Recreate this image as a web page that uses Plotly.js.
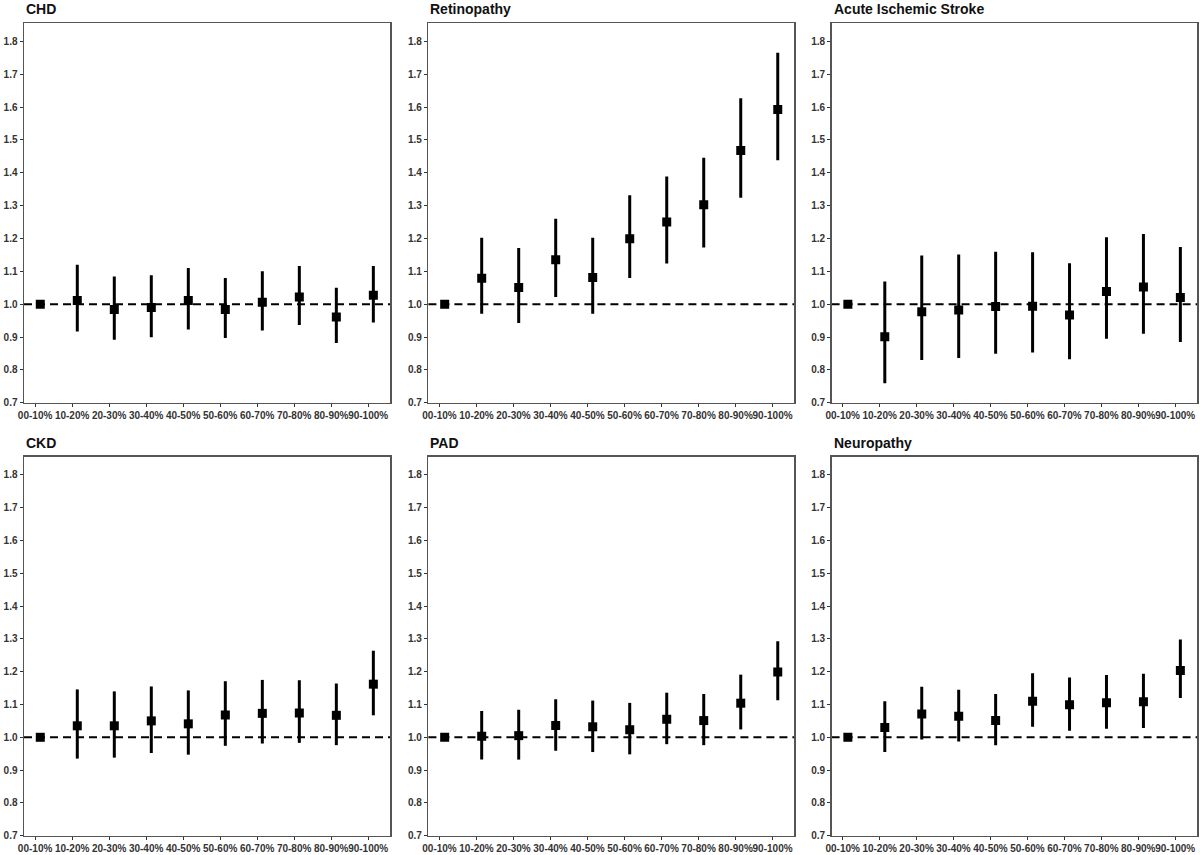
<!DOCTYPE html>
<html>
<head>
<meta charset="utf-8">
<script src="https://cdn.plot.ly/plotly-3.0.1.min.js"></script>
<style>
  html, body { margin: 0; padding: 0; background: #fff; }
  #chart { width: 1200px; height: 855px; }
</style>
</head>
<body>
<div id="chart"></div>
<script>
// deciles of the score, shared by every panel
const deciles = ['00-10%', '10-20%', '20-30%', '30-40%', '40-50%',
                 '50-60%', '60-70%', '70-80%', '80-90%', '90-100%'];

const refValue = 1.0;

// CHD
const chdEst = [1.0, 1.011, 0.984, 0.990, 1.011, 0.984, 1.006, 1.022, 0.961, 1.027];
const chdLo  = [1.0, 0.917, 0.892, 0.899, 0.923, 0.897, 0.920, 0.937, 0.882, 0.944];
const chdHi  = [1.0, 1.120, 1.084, 1.088, 1.110, 1.080, 1.100, 1.116, 1.050, 1.116];

// Retinopathy
const retEst = [1.0, 1.079, 1.051, 1.135, 1.081, 1.199, 1.250, 1.303, 1.468, 1.593];
const retLo  = [1.0, 0.971, 0.943, 1.022, 0.971, 1.080, 1.124, 1.173, 1.324, 1.438];
const retHi  = [1.0, 1.202, 1.171, 1.260, 1.202, 1.332, 1.389, 1.446, 1.627, 1.766];

// Acute Ischemic Stroke
const aisEst = [1.0, 0.901, 0.977, 0.982, 0.993, 0.994, 0.967, 1.039, 1.052, 1.020];
const aisLo  = [1.0, 0.759, 0.830, 0.836, 0.849, 0.853, 0.832, 0.895, 0.910, 0.885];
const aisHi  = [1.0, 1.069, 1.148, 1.151, 1.160, 1.158, 1.125, 1.204, 1.214, 1.174];

// CKD
const ckdEst = [1.0, 1.035, 1.035, 1.050, 1.041, 1.068, 1.073, 1.074, 1.067, 1.162];
const ckdLo  = [1.0, 0.935, 0.938, 0.952, 0.947, 0.974, 0.981, 0.983, 0.976, 1.067];
const ckdHi  = [1.0, 1.146, 1.140, 1.155, 1.143, 1.171, 1.175, 1.174, 1.164, 1.264];

// PAD
const padEst = [1.0, 1.003, 1.005, 1.036, 1.032, 1.023, 1.055, 1.051, 1.104, 1.199];
const padLo  = [1.0, 0.932, 0.932, 0.959, 0.955, 0.948, 0.979, 0.976, 1.024, 1.113];
const padHi  = [1.0, 1.080, 1.084, 1.116, 1.112, 1.105, 1.136, 1.132, 1.191, 1.293];

// Neuropathy
const neuEst = [1.0, 1.030, 1.071, 1.064, 1.051, 1.110, 1.099, 1.105, 1.108, 1.204];
const neuLo  = [1.0, 0.955, 0.993, 0.987, 0.976, 1.032, 1.020, 1.026, 1.028, 1.120];
const neuHi  = [1.0, 1.110, 1.154, 1.145, 1.132, 1.195, 1.182, 1.190, 1.194, 1.298];

const panels = [
  {name: 'CHD', est: chdEst, lo: chdLo, hi: chdHi},
  {name: 'Retinopathy', est: retEst, lo: retLo, hi: retHi},
  {name: 'Acute Ischemic Stroke', est: aisEst, lo: aisLo, hi: aisHi},
  {name: 'CKD', est: ckdEst, lo: ckdLo, hi: ckdHi},
  {name: 'PAD', est: padEst, lo: padLo, hi: padHi},
  {name: 'Neuropathy', est: neuEst, lo: neuLo, hi: neuHi}
];

// layout of the 2x3 grid, in paper fractions
const colDomains = [[0.020, 0.325], [0.357, 0.662], [0.693, 0.9975]];
const rowDomains = [[0.529, 0.973], [0.0226, 0.466]];
const pointShift = 0.14;   // markers sit a little right of the tick, as in the original

const tickFont = {family: 'Liberation Sans, Arial, sans-serif', size: 10, color: '#333', weight: 'bold'};

let traces = [];
let layout = {
  width: 1200, height: 855,
  margin: {l: 0, r: 0, t: 0, b: 0},
  paper_bgcolor: '#fff',
  plot_bgcolor: '#fff',
  showlegend: false,
  font: {family: 'Liberation Sans, Arial, sans-serif', color: '#000'},
  shapes: [],
  annotations: []
};

panels.forEach(function (p, k) {
  let n = k + 1;
  let xa = n === 1 ? 'x' : 'x' + n;
  let ya = n === 1 ? 'y' : 'y' + n;
  let xs = deciles.map(function (d, i) { return i + pointShift; });

  traces.push({
    type: 'scatter', mode: 'markers',
    x: xs, y: p.est,
    xaxis: xa, yaxis: ya,
    marker: {symbol: 'square', size: 9, color: '#000'},
    error_y: {
      type: 'data', symmetric: false,
      array: p.hi.map(function (h, i) { return h - p.est[i]; }),
      arrayminus: p.lo.map(function (l, i) { return p.est[i] - l; }),
      color: '#000', thickness: 3, width: 0
    },
    hoverinfo: 'x+y'
  });

  let col = k % 3, row = Math.floor(k / 3);
  layout['xaxis' + (n === 1 ? '' : n)] = {
    domain: colDomains[col], anchor: ya,
    range: [-0.3, 9.59],
    tickmode: 'array',
    tickvals: deciles.map(function (d, i) { return i; }),
    ticktext: deciles,
    tickangle: 0,
    ticks: 'outside', ticklen: 3, tickwidth: 1, tickcolor: '#333',
    tickfont: tickFont,
    showgrid: false, zeroline: false,
    showline: true, mirror: true, linecolor: '#555', linewidth: 1.5
  };
  layout['yaxis' + (n === 1 ? '' : n)] = {
    domain: rowDomains[row], anchor: xa,
    range: [0.7, 1.856],
    tickmode: 'array',
    tickvals: [0.7, 0.8, 0.9, 1.0, 1.1, 1.2, 1.3, 1.4, 1.5, 1.6, 1.7, 1.8],
    ticktext: ['0.7', '0.8', '0.9', '1.0', '1.1', '1.2', '1.3', '1.4', '1.5', '1.6', '1.7', '1.8'],
    ticks: 'outside', ticklen: 3, tickwidth: 1, tickcolor: '#333',
    tickfont: tickFont,
    showgrid: false, zeroline: false,
    showline: true, mirror: true, linecolor: '#555', linewidth: 1.5
  };

  // dashed reference line at 1
  layout.shapes.push({
    type: 'line', xref: xa + ' domain', yref: ya,
    x0: 0, x1: 1, y0: refValue, y1: refValue,
    line: {color: '#000', width: 2, dash: '8px,5px'},
    layer: 'below'
  });

  // panel title
  layout.annotations.push({
    text: '<b>' + p.name + '</b>',
    xref: xa + ' domain', yref: ya + ' domain',
    x: 0, y: 1, xanchor: 'left', yanchor: 'bottom',
    yshift: 4, showarrow: false,
    font: {family: 'Liberation Sans, Arial, sans-serif', size: 14, color: '#111'}
  });
});

Plotly.newPlot('chart', traces, layout, {displayModeBar: false, staticPlot: true});
</script>
</body>
</html>
